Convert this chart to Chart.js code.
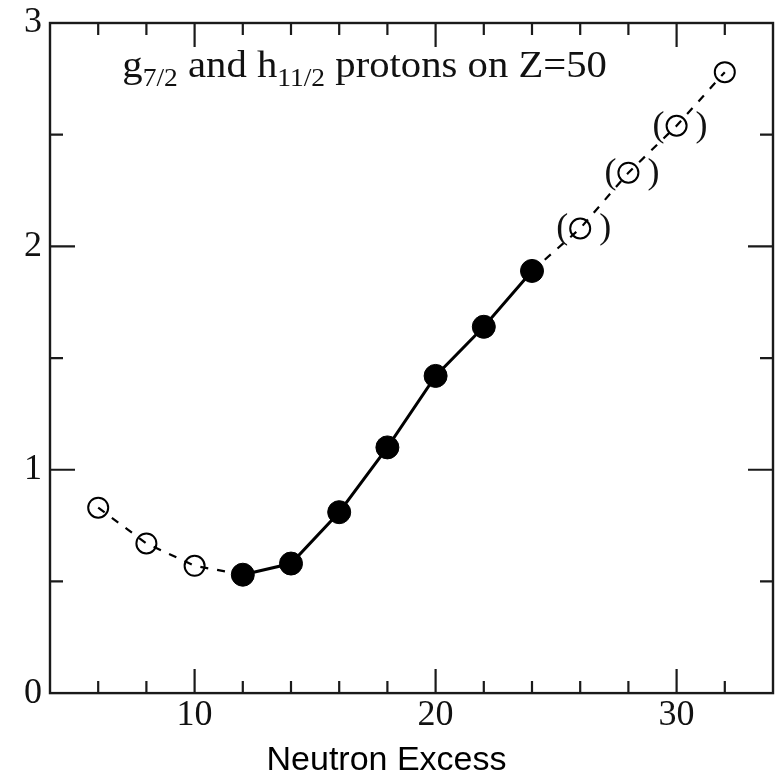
<!DOCTYPE html>
<html>
<head>
<meta charset="utf-8">
<script src="https://cdn.jsdelivr.net/npm/chart.js@4/dist/chart.umd.min.js"></script>
<style>
  html, body { margin: 0; padding: 0; background: #fff; }
  #c { display: block; }
</style>
</head>
<body>
<canvas id="c" width="776" height="779"></canvas>
<script>
// ---- data ----
const neutronExcess = [6, 8, 10, 12, 14, 16, 18, 20, 22, 24, 26, 28, 30, 32];
const energy = [0.83, 0.67, 0.57, 0.53, 0.58, 0.81, 1.10, 1.42, 1.64, 1.89, 2.08, 2.33, 2.54, 2.78];
const measured = [false, false, false, true, true, true, true, true, true, true, false, false, false, false];
const tentative = [26, 28, 30];
const xTickLabels = [10, 20, 30];
const yTickLabels = [0, 1, 2, 3];
const xAxisTitle = 'Neutron Excess';
const panelLabel = [['g', false], ['7/2', true], [' and h', false], ['11/2', true], [' protons on Z=50', false]];

const SERIF = '"Liberation Serif", "Times New Roman", serif';
const SANS = '"Liberation Sans", Arial, sans-serif';
const INK = '#111';

const framePlugin = {
  id: 'frame',
  afterDatasetsDraw(chart) {
    const { ctx, chartArea: a, scales: { x, y } } = chart;
    ctx.save();
    ctx.strokeStyle = '#1a1a1a';
    ctx.lineWidth = 2.4;
    ctx.strokeRect(a.left, a.top, a.right - a.left, a.bottom - a.top);
    ctx.lineWidth = 2.2;
    ctx.beginPath();
    x.ticks.forEach(t => {
      const v = t.value;
      if (v <= x.min || v >= x.max) return;
      const px = x.getPixelForValue(v);
      const len = (v % 10 === 0) ? 24 : 12;
      ctx.moveTo(px, a.bottom); ctx.lineTo(px, a.bottom - len);
      ctx.moveTo(px, a.top); ctx.lineTo(px, a.top + len);
    });
    y.ticks.forEach(t => {
      const v = t.value;
      if (v <= y.min || v >= y.max) return;
      const py = y.getPixelForValue(v);
      const len = (Math.abs(v - Math.round(v)) < 1e-9) ? 25 : 13;
      ctx.moveTo(a.left, py); ctx.lineTo(a.left + len, py);
      ctx.moveTo(a.right, py); ctx.lineTo(a.right - len, py);
    });
    ctx.stroke();

    // parentheses around tentative points
    ctx.fillStyle = INK;
    ctx.font = '36px ' + SERIF;
    ctx.textAlign = 'center';
    ctx.textBaseline = 'alphabetic';
    tentative.forEach(xv => {
      const i = neutronExcess.indexOf(xv);
      const px = x.getPixelForValue(xv);
      const py = y.getPixelForValue(energy[i]);
      ctx.fillText('(', px - 18, py + 10);
      ctx.fillText(')', px + 25, py + 10);
    });

    // panel label with subscripts
    const x0 = x.getPixelForValue(7.0);
    const y0 = y.getPixelForValue(2.757);
    ctx.translate(x0, y0);
    ctx.scale(1.1, 1);
    ctx.textAlign = 'left';
    let cx = 0;
    panelLabel.forEach(([txt, sub]) => {
      ctx.font = (sub ? '25px ' : '37px ') + SERIF;
      ctx.fillText(txt, cx, sub ? 9 : 0);
      cx += ctx.measureText(txt).width;
    });
    ctx.restore();
  }
};

new Chart(document.getElementById('c'), {
  type: 'line',
  data: {
    datasets: [{
      data: neutronExcess.map((v, i) => ({ x: v, y: energy[i] })),
      borderColor: '#000',
      borderWidth: 2.6,
      borderDash: [],
      tension: 0,
      fill: false,
      segment: {
        borderDash: c => (measured[c.p0DataIndex] && measured[c.p1DataIndex]) ? [] : [8, 9],
        borderWidth: c => (measured[c.p0DataIndex] && measured[c.p1DataIndex]) ? 3 : 2.2
      },
      pointRadius: measured.map(m => m ? 11.5 : 10),
      pointHoverRadius: measured.map(m => m ? 11.5 : 10),
      pointBackgroundColor: measured.map(m => m ? '#000' : 'rgba(0,0,0,0)'),
      pointBorderColor: '#000',
      pointBorderWidth: measured.map(m => m ? 1 : 2)
    }]
  },
  options: {
    responsive: false,
    animation: false,
    devicePixelRatio: 1,
    layout: { autoPadding: false, padding: { top: 23, right: 3, left: 0, bottom: 0 } },
    plugins: {
      legend: { display: false },
      tooltip: { enabled: false },
      title: {
        display: true,
        position: 'bottom',
        text: xAxisTitle,
        color: '#000',
        font: { family: SANS, size: 34, weight: 'normal', lineHeight: 1.1 },
        padding: { top: 0, bottom: 0 }
      }
    },
    scales: {
      x: {
        type: 'linear',
        min: 4,
        max: 34,
        grid: { display: false, drawTicks: false },
        border: { display: false },
        afterFit: s => { s.height = 48.5; },
        ticks: {
          stepSize: 2,
          autoSkip: false,
          maxRotation: 0,
          padding: 1,
          color: INK,
          font: { family: SERIF, size: 36 },
          callback: v => xTickLabels.includes(v) ? String(v) : ''
        }
      },
      y: {
        type: 'linear',
        min: 0,
        max: 3,
        grid: { display: false, drawTicks: false },
        border: { display: false },
        afterFit: s => { s.width = 50; },
        ticks: {
          stepSize: 0.5,
          autoSkip: false,
          padding: 8,
          color: INK,
          font: { family: SERIF, size: 36, lineHeight: 0.8 },
          callback: v => yTickLabels.includes(v) ? String(v) : ''
        }
      }
    }
  },
  plugins: [framePlugin]
});
</script>
</body>
</html>
